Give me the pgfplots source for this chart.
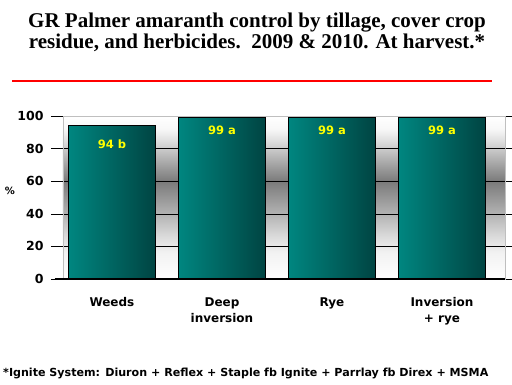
\documentclass[border=0pt]{standalone}
\usepackage{fontspec}
\setmainfont{DejaVu Sans}
\newfontfamily\titlefont{Liberation Serif}
\usepackage{pgfplots}
\pgfplotsset{compat=1.18}
\definecolor{barL}{RGB}{0,134,128}
\definecolor{barR}{RGB}{0,68,66}
\definecolor{lbl}{RGB}{255,255,0}
\pgfdeclareverticalshading{bgshade}{100bp}{color(0bp)=(white); color(25bp)=(white); color(33bp)=(white!95!black); color(38bp)=(white!86!black); color(45bp)=(white!70!black); color(55bp)=(white!48!black); color(62bp)=(white!70!black); color(67bp)=(white!86!black); color(71bp)=(white!97!black); color(75bp)=(white); color(100bp)=(white)}
\pgfplotsset{onebar/.style={ybar, bar shift=0pt, bar width=87pt, draw=black, line width=0.8pt, left color=barL, right color=barR}}
\begin{document}
\begin{tikzpicture}
\path[use as bounding box] (0,0) rectangle (512pt,384pt);
\node[font=\titlefont\bfseries\fontsize{21}{21}\selectfont, align=center] at (257pt,352pt) {GR Palmer amaranth control by tillage, cover crop\\residue, and herbicides.\ \ 2009 \& 2010. At harvest.*};
\draw[red, line width=2pt] (12pt,303.5pt) -- (492pt,303.5pt);
\begin{axis}[
  at={(63pt,105pt)}, anchor=south west,
  scale only axis, width=442pt, height=163pt,
  xmin=-0.445, xmax=3.573, ymin=0, ymax=100,
  xtick={0,1,2,3},
  xticklabels={Weeds, Deep\\inversion, Rye, Inversion\\+ rye},
  ytick={0,20,40,60,80,100},
  ymajorgrids, grid style={black, line width=0.6pt},
  axis background/.style={shading=bgshade},
  axis line style={white!75!black},
  tick align=outside, major tick length=12pt,
  ytick style={black, line width=0.5pt}, xtick style={draw=none},
  /pgf/number format/assume math mode=true,
  yticklabel style={font=\bfseries\fontsize{12.5}{14}\selectfont, xshift=-4pt},
  xticklabel style={font=\bfseries\fontsize{12}{16}\selectfont, align=center, yshift=-3pt},
  ylabel={\%}, ylabel style={font=\bfseries\fontsize{10}{12}\selectfont, rotate=-90, at={(axis description cs:-0.12,0.54)}, anchor=center},
  clip=false,
]
\addplot[onebar] coordinates {(0,94)};
\addplot[onebar] coordinates {(1,99)};
\addplot[onebar] coordinates {(2,99)};
\addplot[onebar] coordinates {(3,99)};
\addplot[only marks, mark=none, nodes near coords, point meta=explicit symbolic,
  every node near coord/.append style={text=lbl, font=\bfseries\fontsize{11.5}{13}\selectfont, anchor=center}]
  coordinates {(0,83)[94 b] (1,91.5)[99 a] (2,91.5)[99 a] (3,91.5)[99 a]};
\draw[black, line width=1.2pt] (axis cs:-0.52,0) -- (axis cs:3.573,0);
\end{axis}
\node[anchor=west, font=\bfseries\fontsize{11.1}{13}\selectfont, inner sep=0pt] at (3pt,11pt) {*Ignite System: Diuron + Reflex + Staple fb Ignite + Parrlay fb Direx + MSMA};
\end{tikzpicture}
\end{document}
